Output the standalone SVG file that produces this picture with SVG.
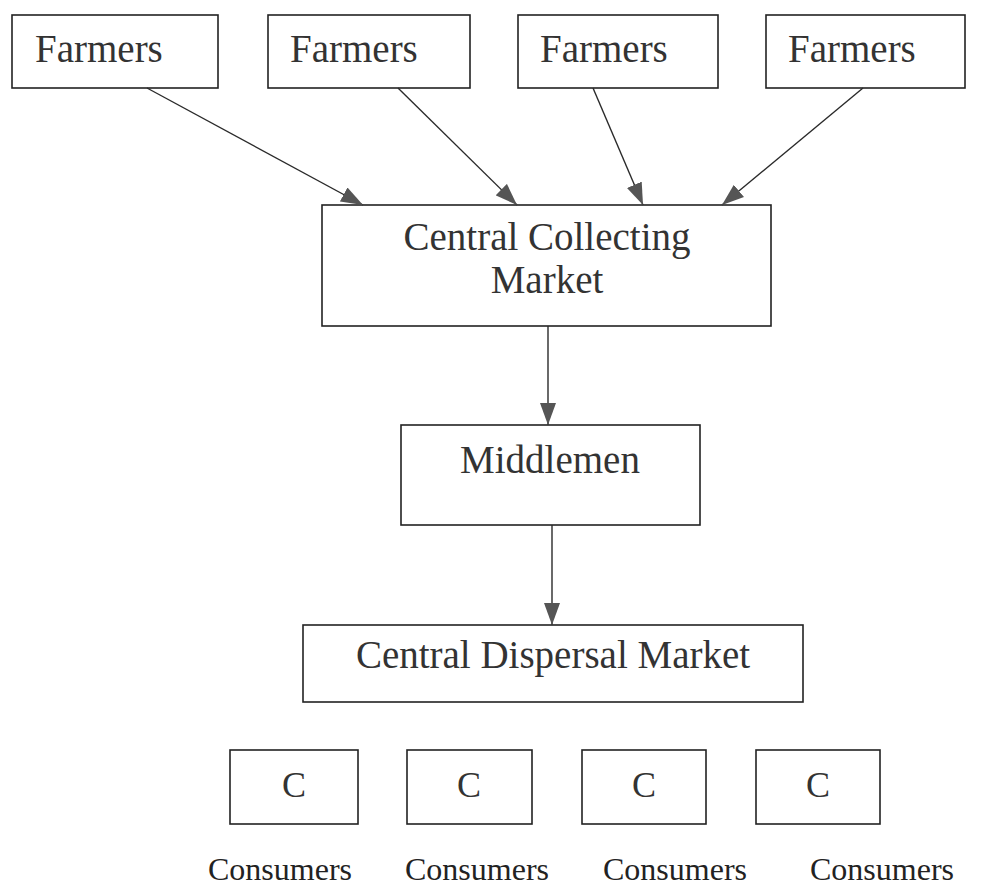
<svg xmlns="http://www.w3.org/2000/svg" width="987" height="890" viewBox="0 0 987 890">
<style>
.box{fill:#fff;stroke:#222;stroke-width:1.6}
.t{font-family:"Liberation Serif","Times New Roman",serif;fill:#333}
.lg{font-size:39px}
.cc{font-size:36px;text-anchor:middle}
.cons{font-size:32px;fill:#222}
.m{text-anchor:middle}
.ln{stroke:#2a2a2a;stroke-width:1.4;fill:none;marker-end:url(#ah)}
</style>
<defs>
<marker id="ah" markerUnits="userSpaceOnUse" markerWidth="22" markerHeight="16" refX="22" refY="8" orient="auto">
<path d="M0,0 L22,8 L0,16 z" fill="#555"/>
</marker>
</defs>
<rect width="987" height="890" fill="#fff"/>
<g id="farmers1"><rect class="box" x="12" y="15" width="206" height="73"/><text class="t lg" x="35" y="62">Farmers</text></g>
<g id="farmers2"><rect class="box" x="268" y="15" width="202" height="73"/><text class="t lg" x="290" y="62">Farmers</text></g>
<g id="farmers3"><rect class="box" x="518" y="15" width="200" height="73"/><text class="t lg" x="540" y="62">Farmers</text></g>
<g id="farmers4"><rect class="box" x="766" y="15" width="199" height="73"/><text class="t lg" x="788" y="62">Farmers</text></g>
<g id="ccm"><rect class="box" x="322" y="205" width="449" height="121"/><text class="t lg m" x="547" y="250">Central Collecting</text><text class="t lg m" x="547" y="293">Market</text></g>
<g id="middlemen"><rect class="box" x="401" y="425" width="299" height="100"/><text class="t lg m" x="550" y="473">Middlemen</text></g>
<g id="cdm"><rect class="box" x="303" y="625" width="500" height="77"/><text class="t lg m" x="553" y="668">Central Dispersal Market</text></g>
<g id="c1"><rect class="box" x="230" y="750" width="128" height="74"/><text class="t cc" x="294" y="797">C</text></g>
<g id="c2"><rect class="box" x="407" y="750" width="125" height="74"/><text class="t cc" x="469" y="797">C</text></g>
<g id="c3"><rect class="box" x="582" y="750" width="124" height="74"/><text class="t cc" x="644" y="797">C</text></g>
<g id="c4"><rect class="box" x="756" y="750" width="124" height="74"/><text class="t cc" x="818" y="797">C</text></g>
<g id="consumers">
<text class="t cons" x="208" y="880">Consumers</text>
<text class="t cons" x="405" y="880">Consumers</text>
<text class="t cons" x="603" y="880">Consumers</text>
<text class="t cons" x="810" y="880">Consumers</text>
</g>
<g id="connectors">
<line class="ln" x1="147" y1="88" x2="363" y2="205"/>
<line class="ln" x1="398" y1="88" x2="517" y2="205"/>
<line class="ln" x1="593" y1="88" x2="643" y2="205"/>
<line class="ln" x1="863" y1="88" x2="722" y2="205"/>
<line class="ln" x1="548" y1="326" x2="548" y2="425"/>
<line class="ln" x1="552" y1="525" x2="552" y2="625"/>
</g>
</svg>
